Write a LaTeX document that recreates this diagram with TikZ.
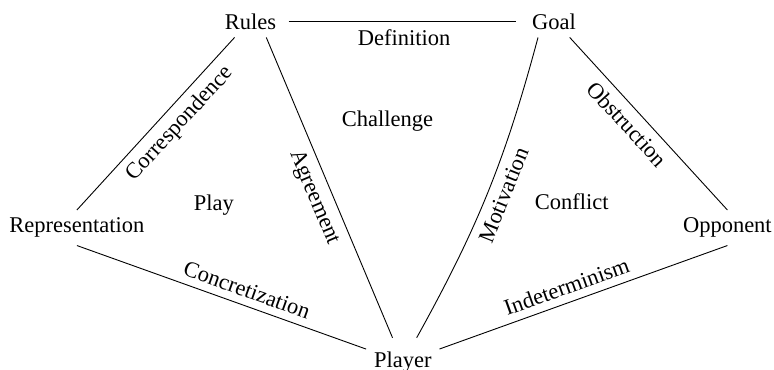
\documentclass[tikz,border=0pt]{standalone}
\usepackage{fontspec}
\setmainfont{Liberation Serif}
\usetikzlibrary{
	positioning,
}

\begin{document}
\begin{tikzpicture}[
	text=black,
	node distance = 3.22cm,
	lbl/.style={sloped,font=\normalsize},
	]
	\useasboundingbox (-111.3pt,9.6pt) rectangle (232.7pt,-154.4pt);
	
	%% line 1
	\node (Rules) {Rules};
	\node (Goal) [right of=Rules,xshift=15.2mm] {Goal};
	
	%% line 2
	\node (Representation) [below of=Rules,xshift=-27.1mm] {Representation};
	\node (Opponent) [below of=Goal,xshift=27.1mm] {Opponent};
	
	%% line 3
	\node (Player) [below of=Rules,xshift=23.8mm,yshift=-21mm,inner ysep=6.1pt] {Player};
	
	%% inside the triangles
	\node (Play) [below of=Rules,xshift=-5.7mm,yshift=3.6mm] {Play};
	\node (Challenge) [below of=Rules,xshift=21.4mm,yshift=16.6mm] {Challenge};
	\node (Conflict) [below of=Goal,xshift=2.8mm,yshift=4mm] {Conflict};
	
	%% edges
	\draw[shorten <=2pt,shorten >=3.6pt] (Rules) to node[below] {Definition} (Goal);
	\draw (Rules.-135) to node[lbl,below,pos=0.43] {Correspondence} (Representation.north);
	\draw (Rules.-45) to node[lbl,below,pos=0.51] {Agreement} (Player);
	\draw (Goal.-135) to[bend left=7] node[lbl,below,pos=0.49] {Motivation} (Player);
	\draw (Goal.-45) to node[lbl,below,pos=0.44] {Obstruction} (Opponent.north);
	\draw (Representation.south) to node[lbl,above,pos=0.57] {Concretization} (Player);
	\draw (Player) to node[lbl,above,pos=0.46] {Indeterminism} (Opponent.south);
	
\end{tikzpicture}
\end{document}
